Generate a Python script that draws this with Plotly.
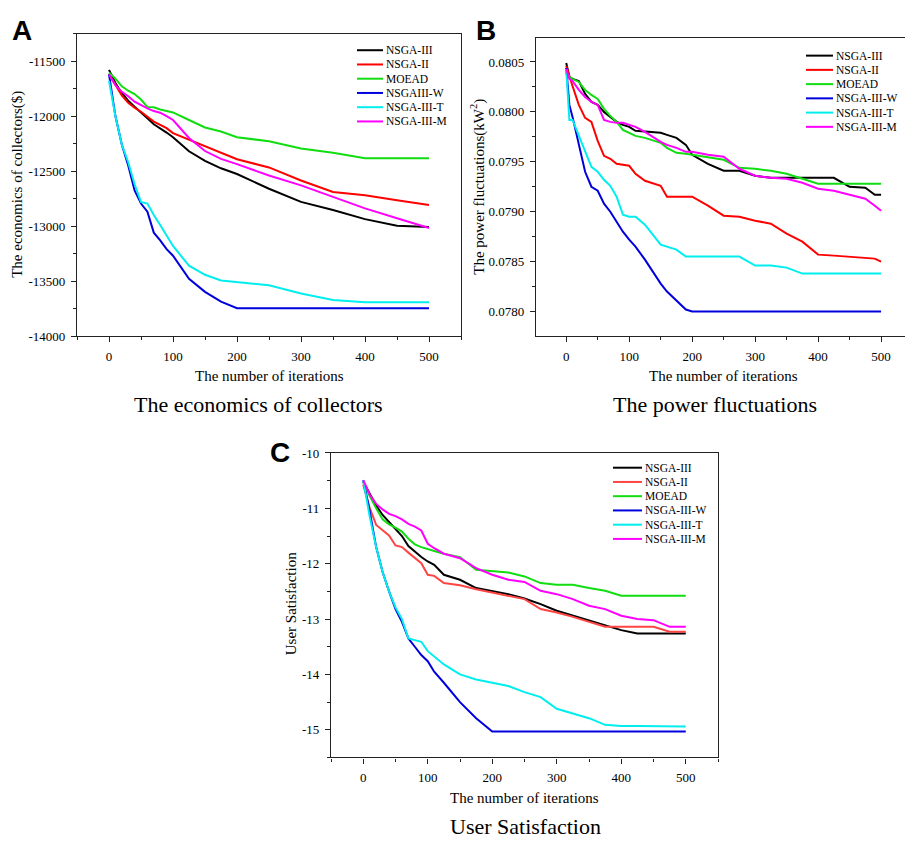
import plotly.graph_objects as go

# ---------------- data ----------------
SERIES_A = ["NSGA-III", "NSGA-II", "MOEAD", "NSGAIII-W", "NSGA-III-T", "NSGA-III-M"]
SERIES_BC = ["NSGA-III", "NSGA-II", "MOEAD", "NSGA-III-W", "NSGA-III-T", "NSGA-III-M"]
COLORS_AB = ["#000000", "#ff0000", "#11dd11", "#0000dd", "#00eeee", "#ff00ff"]
COLORS_C = ["#000000", "#ff4444", "#11dd11", "#0000dd", "#00eeee", "#ff00ff"]

A_iter = [0, 10, 20, 30, 40, 50, 60, 70, 80, 90, 100, 125, 150, 175, 200, 250, 300, 350, 400, 450, 500]
A_nsga3 = [-11580, -11700, -11790, -11860, -11915, -11965, -12020, -12075, -12110, -12150, -12193, -12320, -12408, -12475, -12527, -12661, -12780, -12854, -12937, -12997, -13009]
A_nsga2 = [-11620, -11720, -11812, -11880, -11925, -11961, -12010, -12050, -12080, -12110, -12155, -12214, -12274, -12333, -12393, -12467, -12586, -12690, -12720, -12765, -12809]
A_moead = [-11604, -11660, -11730, -11770, -11800, -11850, -11917, -11920, -11940, -11955, -11967, -12036, -12104, -12140, -12193, -12229, -12295, -12333, -12384, -12384, -12384]
A_w = [-11620, -12000, -12259, -12450, -12676, -12795, -12869, -13060, -13130, -13210, -13270, -13479, -13598, -13687, -13747, -13747, -13747, -13747, -13747, -13747, -13747]
A_t = [-11679, -12000, -12259, -12420, -12620, -12780, -12795, -12900, -12990, -13090, -13181, -13360, -13443, -13494, -13509, -13539, -13613, -13672, -13693, -13693, -13693]
A_m = [-11620, -11720, -11780, -11820, -11870, -11902, -11930, -11955, -11970, -12000, -12036, -12199, -12318, -12390, -12437, -12541, -12630, -12735, -12839, -12929, -13018]

B_iter = [0, 5, 10, 20, 30, 40, 50, 60, 70, 80, 90, 100, 110, 125, 150, 160, 175, 190, 200, 225, 250, 275, 300, 325, 350, 375, 400, 425, 450, 475, 490, 500]
B_nsga3 = [0.08049, 0.08035, 0.08033, 0.08031, 0.08018, 0.08010, 0.08007, 0.08000, 0.07995, 0.07990, 0.07987, 0.07985, 0.07981, 0.07980, 0.07979, 0.07977, 0.07974, 0.07967, 0.07957, 0.07948, 0.07941, 0.07941, 0.07936, 0.07934, 0.07934, 0.07934, 0.07934, 0.07934, 0.07925, 0.07924, 0.07917, 0.07917]
B_nsga2 = [0.08046, 0.08035, 0.08026, 0.08007, 0.07994, 0.07990, 0.07971, 0.07956, 0.07953, 0.07948, 0.07947, 0.07946, 0.07938, 0.07931, 0.07926, 0.07915, 0.07915, 0.07915, 0.07915, 0.07906, 0.07896, 0.07895, 0.07891, 0.07888, 0.07878, 0.07870, 0.07857, 0.07856, 0.07855, 0.07854, 0.07853, 0.07850]
B_moead = [0.08040, 0.08035, 0.08033, 0.08030, 0.08022, 0.08017, 0.08013, 0.08003, 0.07996, 0.07990, 0.07982, 0.07979, 0.07976, 0.07974, 0.07969, 0.07964, 0.07959, 0.07958, 0.07957, 0.07955, 0.07952, 0.07944, 0.07943, 0.07941, 0.07938, 0.07933, 0.07928, 0.07928, 0.07928, 0.07928, 0.07928, 0.07928]
B_w = [0.08044, 0.08007, 0.07995, 0.07967, 0.07940, 0.07925, 0.07921, 0.07908, 0.07900, 0.07890, 0.07880, 0.07872, 0.07865, 0.07852, 0.07828, 0.07820, 0.07811, 0.07802, 0.07800, 0.07800, 0.07800, 0.07800, 0.07800, 0.07800, 0.07800, 0.07800, 0.07800, 0.07800, 0.07800, 0.07800, 0.07800, 0.07800]
B_t = [0.08043, 0.07992, 0.07992, 0.07976, 0.07961, 0.07945, 0.07940, 0.07932, 0.07926, 0.07915, 0.07897, 0.07895, 0.07895, 0.07887, 0.07867, 0.07865, 0.07862, 0.07855, 0.07855, 0.07855, 0.07855, 0.07855, 0.07846, 0.07846, 0.07844, 0.07838, 0.07838, 0.07838, 0.07838, 0.07838, 0.07838, 0.07838]
B_m = [0.08043, 0.08033, 0.08031, 0.08022, 0.08015, 0.08010, 0.08007, 0.07992, 0.07990, 0.07989, 0.07989, 0.07987, 0.07985, 0.07980, 0.07970, 0.07967, 0.07964, 0.07960, 0.07960, 0.07957, 0.07955, 0.07943, 0.07936, 0.07934, 0.07933, 0.07929, 0.07923, 0.07921, 0.07917, 0.07913, 0.07906, 0.07901]

C_iter = [0, 10, 20, 30, 40, 50, 60, 70, 80, 90, 100, 110, 125, 150, 175, 200, 225, 250, 275, 300, 325, 350, 375, 400, 425, 450, 475, 500]
C_nsga3 = [-10.52, -10.75, -10.95, -11.12, -11.25, -11.37, -11.50, -11.68, -11.78, -11.88, -11.96, -12.02, -12.20, -12.29, -12.44, -12.49, -12.55, -12.63, -12.73, -12.85, -12.94, -13.02, -13.11, -13.20, -13.26, -13.26, -13.26, -13.26]
C_nsga2 = [-10.58, -10.99, -11.30, -11.40, -11.49, -11.67, -11.70, -11.80, -11.90, -11.99, -12.20, -12.22, -12.35, -12.39, -12.46, -12.52, -12.58, -12.64, -12.82, -12.88, -12.96, -13.05, -13.14, -13.14, -13.14, -13.14, -13.23, -13.23]
C_moead = [-10.55, -10.78, -11.00, -11.20, -11.29, -11.35, -11.42, -11.55, -11.65, -11.70, -11.73, -11.77, -11.82, -11.88, -12.11, -12.14, -12.16, -12.23, -12.35, -12.38, -12.38, -12.44, -12.49, -12.58, -12.58, -12.58, -12.58, -12.58]
C_w = [-10.49, -11.05, -11.70, -12.15, -12.50, -12.82, -13.05, -13.35, -13.50, -13.65, -13.76, -13.95, -14.15, -14.50, -14.79, -15.03, -15.03, -15.03, -15.03, -15.03, -15.03, -15.03, -15.03, -15.03, -15.03, -15.03, -15.03, -15.03]
C_t = [-10.49, -11.15, -11.70, -12.15, -12.50, -12.79, -13.00, -13.35, -13.38, -13.41, -13.58, -13.68, -13.82, -14.00, -14.09, -14.15, -14.21, -14.32, -14.41, -14.62, -14.70, -14.79, -14.91, -14.93, -14.93, -14.93, -14.94, -14.94]
C_m = [-10.49, -10.75, -10.92, -11.02, -11.10, -11.14, -11.20, -11.28, -11.33, -11.40, -11.64, -11.72, -11.82, -11.90, -12.08, -12.20, -12.29, -12.33, -12.49, -12.55, -12.64, -12.76, -12.82, -12.94, -13.00, -13.02, -13.14, -13.14]

A_ytick_vals = [-14000, -13500, -13000, -12500, -12000, -11500]
A_ytick_text = ["-14000", "-13500", "-13000", "-12500", "-12000", "-11500"]
B_ytick_vals = [0.0780, 0.0785, 0.0790, 0.0795, 0.0800, 0.0805]
B_ytick_text = ["0.0780", "0.0785", "0.0790", "0.0795", "0.0800", "0.0805"]
C_ytick_vals = [-15, -14, -13, -12, -11, -10]
C_ytick_text = ["-15", "-14", "-13", "-12", "-11", "-10"]
X_tick_vals = [0, 100, 200, 300, 400, 500]

SERIF = "Liberation Serif"
W, H = 905, 848

fig = go.Figure()

panels = [
    ("x", "y", A_iter, [A_nsga3, A_nsga2, A_moead, A_w, A_t, A_m], SERIES_A, COLORS_AB),
    ("x2", "y2", B_iter, [B_nsga3, B_nsga2, B_moead, B_w, B_t, B_m], SERIES_BC, COLORS_AB),
    ("x3", "y3", C_iter, [C_nsga3, C_nsga2, C_moead, C_w, C_t, C_m], SERIES_BC, COLORS_C),
]
for xa, ya, it, ys, names, cols in panels:
    for yv, nm, c in zip(ys, names, cols):
        fig.add_trace(go.Scatter(x=it, y=yv, name=nm, mode="lines", xaxis=xa, yaxis=ya,
                                 line=dict(color=c, width=2), showlegend=False))

def px_x(p):
    return p / W

def px_y(p):
    return 1 - p / H

axis_common = dict(showgrid=False, zeroline=False, showline=True, mirror=True,
                   linecolor="#222", linewidth=1.3, ticks="outside", ticklen=5,
                   tickwidth=1.3, tickcolor="#222", ticklabelstandoff=3,
                   tickfont=dict(family=SERIF, size=13, color="black"))

def xaxis(dom, rng, anchor):
    return dict(axis_common, domain=dom, range=rng, anchor=anchor, tickvals=X_tick_vals,
                minor=dict(dtick=50, tick0=0, ticks="outside", ticklen=3, tickwidth=1.3, tickcolor="#222"))

def yaxis(dom, rng, anchor, vals, text, mdt, mirror=True):
    return dict(axis_common, domain=dom, range=rng, anchor=anchor, tickvals=vals, ticktext=text,
                mirror=mirror,
                minor=dict(dtick=mdt, tick0=0, ticks="outside", ticklen=3, tickwidth=1.3, tickcolor="#222"))

domA_x = [px_x(77), px_x(461)]
domA_y = [px_y(335), px_y(27)]
domB_x = [px_x(536), 1.0]
domB_y = [px_y(335), px_y(32)]
domC_x = [px_x(331), px_x(718)]
domC_y = [px_y(764), px_y(454)]

fig.update_layout(
    xaxis=xaxis(domA_x, [-50, 550], "y"),
    yaxis=yaxis(domA_y, [-14000, -11250], "x", A_ytick_vals, A_ytick_text, 250),
    xaxis2=xaxis(domB_x, [-48, 538], "y2"),
    yaxis2=yaxis(domB_y, [0.077754, 0.080736], "x2", B_ytick_vals, B_ytick_text, 0.00025, mirror=False),
    xaxis3=xaxis(domC_x, [-50, 550], "y3"),
    yaxis3=yaxis(domC_y, [-15.5, -10], "x3", C_ytick_vals, C_ytick_text, 0.5),
)

annotations = []
shapes = []

def text(x, y, s, size, angle=0, family=SERIF, bold=False, xanchor="center"):
    annotations.append(dict(x=px_x(x), y=px_y(y), xref="paper", yref="paper", text=("<b>%s</b>" % s if bold else s),
                            showarrow=False, textangle=angle, xanchor=xanchor, yanchor="middle",
                            font=dict(family=family, size=size, color="black")))

# panel letters
text(22, 24, "A", 28, family="Liberation Sans", bold=True)
text(486, 24, "B", 28, family="Liberation Sans", bold=True)
text(280, 454, "C", 28, family="Liberation Sans", bold=True)

# axis titles
text(18, 181, "The economics of collectors($)", 15, angle=-90)
text(269, 376, "The number of iterations", 15)
text(478, 183, "The power fluctuations(kW<sup>2</sup>)", 15, angle=-90)
text(723, 376, "The number of iterations", 15)
text(291, 608, "User Satisfaction", 15, angle=-90)
text(524, 805, "The number of iterations", 15)

# subtitles
text(258, 405, "The economics of collectors", 22)
text(715, 405, "The power fluctuations", 22)
text(525, 834, "User Satisfaction", 22)

# legends
def legend(x0, x1, y0, names, cols):
    for i, (nm, c) in enumerate(zip(names, cols)):
        yy = y0 + i * 14.5
        shapes.append(dict(type="line", xref="paper", yref="paper", x0=px_x(x0), x1=px_x(x1),
                           y0=px_y(yy), y1=px_y(yy), line=dict(color=c, width=2)))
        text(x1 + 1, yy, nm, 11.5, xanchor="left")

legend(357, 383, 44, SERIES_A, COLORS_AB)
legend(806, 833, 49.5, SERIES_BC, COLORS_AB)
legend(613, 642, 469, SERIES_BC, COLORS_C)

fig.update_layout(width=W, height=H, autosize=False, margin=dict(l=0, r=0, t=0, b=0),
                  paper_bgcolor="white", plot_bgcolor="white",
                  annotations=annotations, shapes=shapes, showlegend=False)

fig.write_html("out.html", config={"displayModeBar": False, "responsive": False},
               post_script=("document.documentElement.style.margin='0';"
                            "document.body.style.margin='0';"
                            "document.body.style.padding='0';"
                            "document.body.style.overflow='hidden';"
                            "window.scrollTo(0,0);"))
